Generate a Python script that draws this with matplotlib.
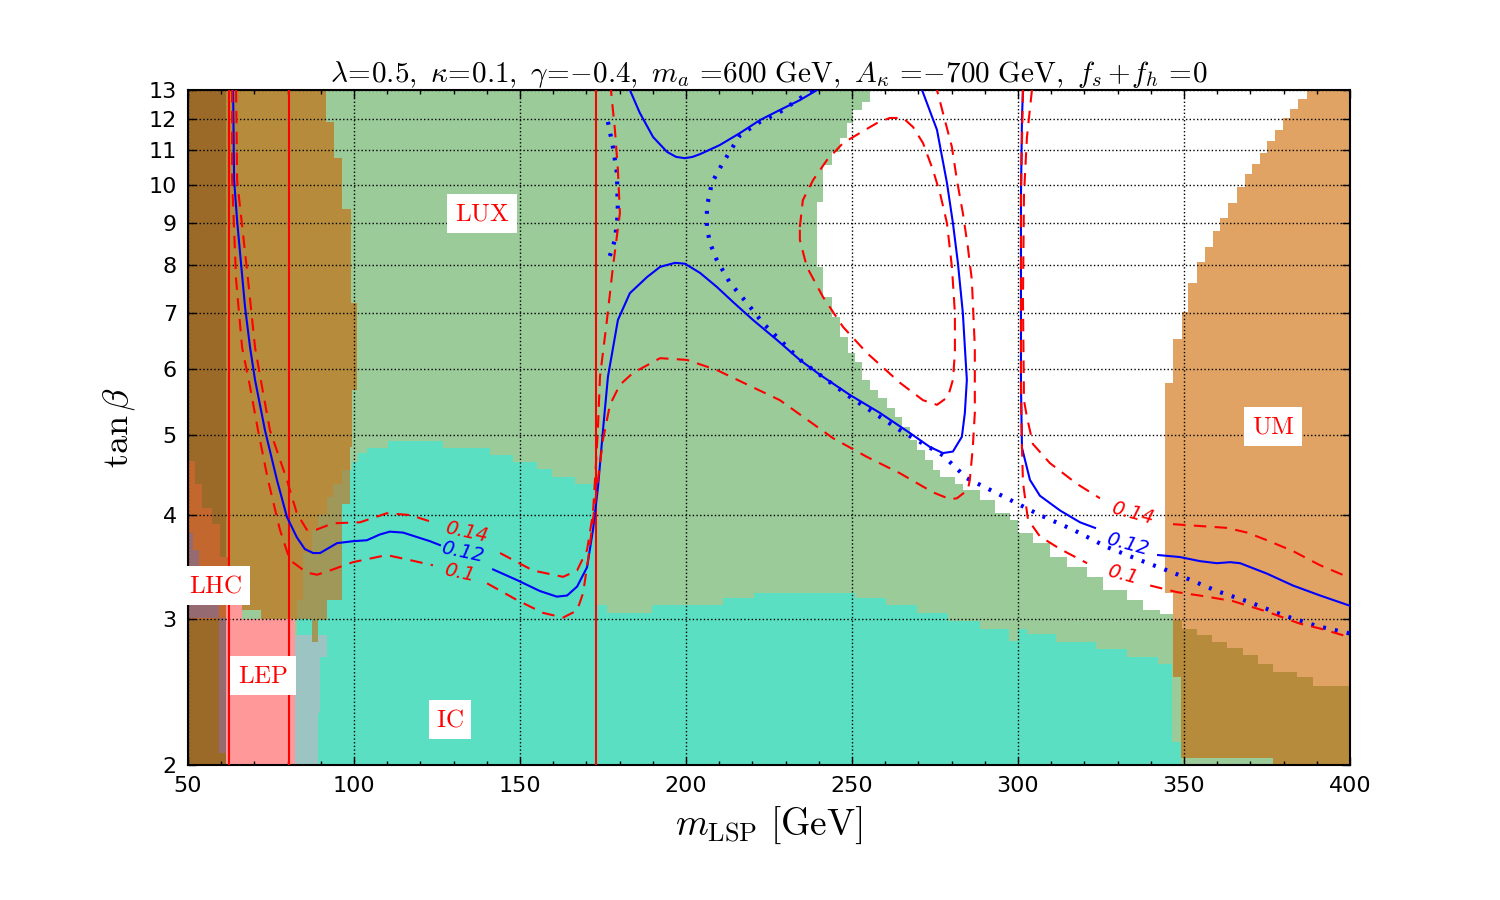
import numpy as np
import matplotlib
matplotlib.use('Agg')
from matplotlib import pyplot as plt
from matplotlib.path import Path
from matplotlib.patches import PathPatch
from matplotlib.ticker import MultipleLocator, NullLocator

plt.rcParams['mathtext.fontset'] = 'cm'

# ---- shaded regions (staircase edges, m in GeV, tan(beta)) ----
# LUX (green): right edge, bands between successive tan(beta) edges
GREEN_T_EDGES = [13.0, 12.57, 12.30, 11.86, 11.38, 10.95, 10.56, 9.53, 7.96, 7.32, 6.93, 6.55,
                 6.27, 6.11, 5.82, 5.66, 5.53, 5.38, 5.25, 5.11, 4.93, 4.79, 4.66, 4.53, 4.44,
                 4.36, 4.29, 4.17, 4.02, 3.95, 3.81, 3.70, 3.56, 3.46, 3.37, 3.25, 3.16, 3.07,
                 3.04, 2.99, 2.92, 2.87, 2.81, 2.77, 2.71, 2.65, 2.59, 2.55, 2.49, 2.0]
GREEN_M_RIGHT = [255.4, 253.0, 250.3, 248.5, 246.4, 244.0, 241.3, 239.5, 241.3, 244.0, 246.4,
                 248.8, 250.9, 253.0, 255.4, 257.8, 260.5, 263.0, 265.1, 267.5, 269.6, 272.0,
                 274.4, 276.5, 281.0, 283.4, 288.6, 293.1, 297.6, 300.0, 304.5, 309.6, 314.8,
                 320.8, 325.6, 332.8, 337.7, 342.8, 346.7, 349.4, 353.9, 358.4, 363.0, 367.8,
                 372.3, 376.8, 384.0, 388.9, 400.0]

# IC (turquoise): left edge (tan beta bands) and top edge (mass bands)
TURQ_T_LEFT_EDGES = [2.0, 2.83, 3.16, 3.60, 3.84, 4.00, 4.21, 4.36, 4.53, 4.63]
TURQ_M_LEFT = [81.6, 82.8, 84.6, 87.3, 89.2, 91.9, 93.7, 96.4, 99.4]
TURQ_M_EDGES = [99.4, 101.2, 103.9, 110.2, 126.8, 141.0, 147.9, 155.1, 159.6, 166.6, 172.9,
                176.2, 189.8, 211.1, 220.5, 250.9, 260.2, 269.6, 278.9, 288.5, 297.3, 300.0,
                302.7, 311.4, 323.5, 332.8, 342.2, 346.4, 349.1]
TURQ_T_TOP = [4.63, 4.75, 4.82, 4.91, 4.82, 4.72, 4.63, 4.54, 4.44, 4.36, 3.12, 3.05, 3.12,
              3.18, 3.22, 3.18, 3.12, 3.05, 2.98, 2.92, 2.82, 2.92, 2.88, 2.81, 2.76, 2.70,
              2.65, 2.13]

# UM: right block (left edge) and low-mass block (right edge, bottom edge)
UM_T_EDGES = [13.0, 12.68, 12.33, 12.03, 11.64, 11.29, 10.92, 10.59, 10.30, 9.93, 9.50, 9.12,
              8.79, 8.41, 8.07, 7.61, 7.02, 6.52, 5.77, 3.22, 2.55, 2.04]
UM_M_LEFT = [387.0, 384.3, 381.9, 379.8, 377.4, 375.0, 372.9, 370.5, 368.4, 366.0, 363.3,
             360.8, 358.7, 356.3, 353.9, 351.2, 349.4, 346.7, 344.3, 346.7, 349.1]
UM_BOTTOM_M_EDGES = [349.1, 376.8, 400.0]
UM_BOTTOM_T = [2.04, 2.0]
UM_LOW_T_EDGES = [13.0, 11.9, 10.77, 9.35, 7.2, 5.66, 4.83, 4.13, 3.16, 2.99, 2.81]
UM_LOW_M_RIGHT = [91.6, 94.0, 96.4, 99.1, 100.9, 99.4, 98.8, 96.4, 91.9, 89.2]
UM_LOW_BOTTOM_M_EDGES = [61.4, 66.4, 72.0, 87.3, 89.2]
UM_LOW_BOTTOM_T = [3.17, 3.07, 3.0, 2.81]
UM_LOW_M_LEFT = 61.4

# LEP
LEP_M_EDGES = [61.4, 66.4, 82.2]
LEP_T_TOP = [3.17, 3.0]
GREY_T_EDGES = [2.0, 2.31, 2.70, 2.87]
GREY_M_RIGHT = [89.2, 89.8, 91.9]
GREY_M_LEFT = 81.6

# far-left strip and LHC
STRIP_M = [50.0, 61.4]
LHC_T_EDGES = [4.65, 4.36, 4.08, 3.90, 3.56, 3.18, 3.0]
LHC_M_RIGHT = [52.1, 54.2, 57.2, 59.6, 62.7, 61.4]
LHC2_T_EDGES = [3.81, 3.63, 3.46, 3.34, 3.18, 3.01]
LHC2_M_RIGHT = [51.6, 53.3, 55.3, 57.3, 59.3]
LHC2_STRIP_M = [59.3, 61.4]
LHC2_STRIP_T = [2.07, 3.01]

VLINES = [62.5, 80.4, 173.0]

# ---- relic density contours ----
BLUE_A1_M = [63.6, 63.9, 64.8, 65.7, 67.2, 68.7, 70.2, 73.2, 76.8, 79.8, 82.8, 85.2, 87.7,
             89.8, 94.9, 99.7, 103.9, 107.8, 110.8, 114.8, 122.9, 125.9]
BLUE_A1_T = [13.0, 10.13, 9.06, 8.27, 7.12, 6.37, 5.82, 5.06, 4.41, 3.98, 3.76, 3.64, 3.60,
             3.60, 3.70, 3.72, 3.73, 3.79, 3.82, 3.81, 3.72, 3.68]
BLUE_A2_M = [141.9, 149.1, 156.0, 161.1, 164.2, 167.2, 170.2, 172.0, 173.5, 175.0, 176.5,
             179.5, 183.1, 188.3, 192.2, 196.7, 199.7, 204.2, 209.3, 214.2, 220.2, 227.4,
             234.3, 240.4, 249.4, 258.4, 267.5, 273.5, 277.4, 280.4, 283.1, 284.0, 284.6,
             284.0, 283.4, 281.9, 280.4, 278.6, 275.6, 271.1]
BLUE_A2_T = [3.44, 3.34, 3.24, 3.19, 3.20, 3.28, 3.46, 3.84, 4.32, 5.06, 5.87, 6.87, 7.40,
             7.74, 7.96, 8.05, 8.03, 7.83, 7.53, 7.22, 6.87, 6.50, 6.15, 5.90, 5.58, 5.31,
             5.02, 4.83, 4.75, 4.77, 4.97, 5.31, 5.82, 6.37, 7.00, 8.05, 8.99, 10.05, 11.64,
             13.0]
BLUE_TOP_M = [183.1, 186.1, 190.1, 194.3, 197.0, 199.7, 202.0, 204.2, 210.2, 216.3, 222.3,
              228.3, 234.3, 239.5]
BLUE_TOP_T = [13.0, 12.2, 11.41, 10.95, 10.80, 10.76, 10.80, 10.88, 11.16, 11.54, 11.96,
              12.30, 12.64, 13.0]
BLUE_R1_M = [301.5, 301.2, 300.9, 300.9, 300.9, 301.2, 303.6, 306.6, 312.7, 318.7, 323.2]
BLUE_R1_T = [13.0, 12.03, 9.72, 7.06, 5.72, 4.82, 4.41, 4.22, 4.05, 3.92, 3.86]
BLUE_R2_M = [342.2, 348.8, 354.8, 359.9, 363.9, 366.9, 375.0, 382.8, 391.0, 400.0]
BLUE_R2_T = [3.58, 3.56, 3.52, 3.50, 3.51, 3.50, 3.40, 3.29, 3.20, 3.11]

DOT_A_M = [176.5, 178.0, 179.2, 179.5, 178.6, 176.5]
DOT_A_T = [11.9, 11.1, 10.33, 9.24, 8.58, 8.07]
DOT_B_M = [238.0, 228.3, 222.3, 216.3, 211.1, 207.8, 206.3, 206.3, 207.2, 209.3, 213.3, 218.4,
           223.2, 228.3, 235.2, 249.4, 264.5, 277.4, 284.6, 296.7, 306.6, 316.6, 326.8, 336.7,
           346.7, 359.9, 369.9, 379.8, 390.1, 400.0]
DOT_B_T = [13.0, 12.23, 11.9, 11.47, 10.62, 10.05, 9.40, 8.89, 8.51, 8.11, 7.61, 7.20, 6.81,
           6.50, 6.11, 5.55, 5.06, 4.72, 4.43, 4.19, 4.00, 3.84, 3.66, 3.53, 3.41, 3.24, 3.14,
           3.03, 2.94, 2.88]

R10_A_M = [63.3, 63.3, 64.5, 66.3, 68.7, 71.1, 74.1, 77.7, 80.7, 85.8, 88.9, 92.8, 99.7,
           109.9, 116.9, 123.8]
R10_A_T = [13.0, 10.13, 7.68, 6.37, 5.71, 5.06, 4.41, 3.84, 3.53, 3.41, 3.39, 3.43, 3.51,
           3.58, 3.53, 3.48]
R10_B_M = [140.1, 149.1, 156.9, 163.0, 167.2, 169.0, 170.5, 172.0, 173.5, 175.0, 177.1, 180.1,
           184.0, 192.2, 200.3, 209.3, 228.3, 244.3, 254.5, 264.5, 274.4, 279.5, 281.6, 284.9,
           285.5, 286.4, 287.0, 287.0, 286.1, 284.9, 283.4, 281.6, 280.1, 277.4, 275.6]
R10_B_T = [3.31, 3.16, 3.05, 3.01, 3.07, 3.22, 3.53, 3.95, 4.41, 4.93, 5.43, 5.74, 5.93, 6.18,
           6.15, 5.98, 5.50, 4.95, 4.70, 4.49, 4.26, 4.18, 4.19, 4.29, 4.41, 4.83, 5.31, 6.37,
           7.68, 8.41, 9.24, 10.13, 11.1, 12.2, 13.0]
R10_C_M = [301.5, 300.9, 300.9, 301.2, 301.5, 303.0, 306.6, 312.7, 320.8]
R10_C_T = [13.0, 9.72, 5.72, 4.82, 4.38, 3.95, 3.77, 3.64, 3.50]
R10_D_M = [339.8, 347.9, 356.9, 364.8, 375.0, 384.9, 391.0, 400.0]
R10_D_T = [3.29, 3.23, 3.19, 3.15, 3.06, 2.96, 2.92, 2.85]

R14_A_M = [64.5, 64.8, 68.1, 70.2, 72.3, 74.7, 79.8, 82.8, 85.8, 88.6, 93.7, 101.8, 109.9,
           116.9, 123.8]
R14_A_T = [13.0, 10.13, 7.68, 6.37, 5.71, 5.06, 4.41, 4.02, 3.84, 3.84, 3.91, 3.92, 4.02,
           4.00, 3.92]
R14_B_M = [144.0, 153.9, 163.0, 167.2, 170.2, 172.0, 172.9, 173.5, 174.1, 176.2, 178.0, 180.1,
           179.5, 178.6, 177.7, 177.4]
R14_B_T = [3.60, 3.43, 3.37, 3.43, 3.63, 4.02, 4.62, 5.11, 5.87, 6.87, 7.96, 9.24, 10.41,
           11.64, 12.64, 13.0]
R14_LOOP_M = [234.3, 235.2, 238.3, 242.5, 247.3, 252.4, 257.5, 261.4, 265.4, 268.4, 271.4,
              274.4, 276.5, 278.6, 280.1, 281.0, 281.0, 280.4, 278.9, 275.6, 271.4, 264.5,
              254.5, 247.3, 241.3, 236.4, 234.3, 234.3]
R14_LOOP_T = [8.89, 9.58, 10.13, 10.71, 11.22, 11.54, 11.86, 12.03, 12.03, 11.73, 11.22, 10.41,
              9.77, 8.99, 7.96, 7.00, 6.27, 5.82, 5.55, 5.43, 5.50, 5.77, 6.27, 6.74, 7.32,
              7.96, 8.58, 8.89]
R14_C_M = [304.2, 302.7, 301.8, 301.5, 301.8, 302.7, 304.5, 309.6, 317.8, 324.7]
R14_C_T = [13.0, 11.41, 9.72, 7.26, 5.50, 5.25, 4.87, 4.62, 4.36, 4.19]
R14_D_M = [346.7, 354.8, 363.0, 369.0, 375.0, 382.8, 391.0, 400.0]
R14_D_T = [3.90, 3.88, 3.86, 3.81, 3.73, 3.62, 3.48, 3.36]

# contour labels: text, m, tan beta, colour, rotation
CLABELS = [('0.14', 134.0, 3.81, 'red', -12), ('0.12', 132.8, 3.61, 'blue', -12),
           ('0.1', 131.6, 3.41, 'red', -12), ('0.14', 334.6, 4.02, 'red', -15),
           ('0.12', 333.1, 3.69, 'blue', -15), ('0.1', 331.6, 3.39, 'red', -15)]
# region labels
REGION_LABELS = [('LUX', 138.6, 9.24), ('IC', 128.9, 2.27), ('LEP', 72.6, 2.56),
                 ('LHC', 58.4, 3.29), ('UM', 376.8, 5.12)]

C_GREEN = '#9acb99'
C_TURQ = '#5adfc2'
C_UM = '#e0a364'
C_UMG = '#b68c3c'
C_OLIVE = '#a09858'
C_STRIP = '#9b6a29'
C_LHC = '#c2672e'
C_LHC2 = '#956a70'
C_LEP = '#ff9999'
C_GREY = '#9bc4c2'


def vstairs(t_edges, m_vals):
    pts = []
    for i, m in enumerate(m_vals):
        pts.append((m, t_edges[i]))
        pts.append((m, t_edges[i + 1]))
    return pts


def hstairs(m_edges, t_vals):
    pts = []
    for i, t in enumerate(t_vals):
        pts.append((m_edges[i], t))
        pts.append((m_edges[i + 1], t))
    return pts


def to_path(pts):
    return Path(list(pts) + [pts[0]], closed=True)


def add_poly(ax, path, color):
    p = PathPatch(path, facecolor=color, edgecolor='none', antialiased=False, zorder=1)
    ax.add_patch(p)
    return p


fig = plt.figure(figsize=(15, 9), dpi=100)
ax = fig.add_axes([0.1253, 0.15, 0.7747, 0.75])

green_path = to_path([(50, 2.0), (50, 13.0)] + vstairs(GREEN_T_EDGES, GREEN_M_RIGHT))
turq_path = to_path(vstairs(TURQ_T_LEFT_EDGES, TURQ_M_LEFT) + hstairs(TURQ_M_EDGES, TURQ_T_TOP)
                    + [(TURQ_M_EDGES[-1], 2.0)])
um_right = to_path(vstairs(UM_T_EDGES, UM_M_LEFT) + hstairs(UM_BOTTOM_M_EDGES, UM_BOTTOM_T)
                   + [(400, 13.0)])
um_low = to_path([(UM_LOW_M_LEFT, 13.0)] + vstairs(UM_LOW_T_EDGES, UM_LOW_M_RIGHT)
                 + hstairs(UM_LOW_BOTTOM_M_EDGES, UM_LOW_BOTTOM_T)[::-1])
um_path = Path.make_compound_path(um_right, um_low)

add_poly(ax, green_path, C_GREEN)
add_poly(ax, turq_path, C_TURQ)
grey_path = to_path(vstairs(GREY_T_EDGES, GREY_M_RIGHT)
                    + [(GREY_M_LEFT, GREY_T_EDGES[-1]), (GREY_M_LEFT, GREY_T_EDGES[0])])
add_poly(ax, grey_path, C_GREY)
um_patch = add_poly(ax, um_path, C_UM)
add_poly(ax, green_path, C_UMG).set_clip_path(um_patch)
add_poly(ax, turq_path, C_OLIVE).set_clip_path(um_patch)

strip = to_path([(STRIP_M[0], 2.0), (STRIP_M[1], 2.0), (STRIP_M[1], 13.0), (STRIP_M[0], 13.0)])
add_poly(ax, strip, C_STRIP)
lhc = to_path([(50, LHC_T_EDGES[0])] + vstairs(LHC_T_EDGES, LHC_M_RIGHT) + [(50, LHC_T_EDGES[-1])])
add_poly(ax, lhc, C_LHC)
lhc2 = to_path([(50, LHC2_T_EDGES[0])] + vstairs(LHC2_T_EDGES, LHC2_M_RIGHT) + [(50, LHC2_T_EDGES[-1])])
add_poly(ax, lhc2, C_LHC2)
lhc2s = to_path([(LHC2_STRIP_M[0], LHC2_STRIP_T[0]), (LHC2_STRIP_M[1], LHC2_STRIP_T[0]),
                 (LHC2_STRIP_M[1], LHC2_STRIP_T[1]), (LHC2_STRIP_M[0], LHC2_STRIP_T[1])])
add_poly(ax, lhc2s, C_LHC2)
lep = to_path([(LEP_M_EDGES[0], 2.0)] + hstairs(LEP_M_EDGES, LEP_T_TOP) + [(LEP_M_EDGES[-1], 2.0)])
add_poly(ax, lep, C_LEP)

# lines
for x in VLINES:
    ax.axvline(x, color='red', lw=1.5, zorder=3)

solid_kw = dict(color='blue', lw=1.5, zorder=4)
for m, t in [(BLUE_A1_M, BLUE_A1_T), (BLUE_A2_M, BLUE_A2_T), (BLUE_TOP_M, BLUE_TOP_T),
             (BLUE_R1_M, BLUE_R1_T), (BLUE_R2_M, BLUE_R2_T)]:
    ax.plot(m, t, **solid_kw)
dot_kw = dict(color='blue', lw=3, linestyle=(0, (0.7, 2.2)), zorder=4)
for m, t in [(DOT_A_M, DOT_A_T), (DOT_B_M, DOT_B_T)]:
    ax.plot(m, t, **dot_kw)
dash_kw = dict(color='red', lw=1.5, linestyle=(0, (6, 4)), zorder=4)
for m, t in [(R10_A_M, R10_A_T), (R10_B_M, R10_B_T), (R10_C_M, R10_C_T), (R10_D_M, R10_D_T),
             (R14_A_M, R14_A_T), (R14_B_M, R14_B_T), (R14_LOOP_M, R14_LOOP_T),
             (R14_C_M, R14_C_T), (R14_D_M, R14_D_T)]:
    ax.plot(m, t, **dash_kw)

for txt, m, t, c, rot in CLABELS:
    ax.text(m, t, txt, color=c, fontsize=14, style='italic', rotation=rot,
            ha='center', va='center', zorder=5)

for txt, m, t in REGION_LABELS:
    ax.text(m, t, r'$\mathrm{%s}$' % txt, color='red', fontsize=18, ha='center', va='center',
            zorder=6, bbox=dict(facecolor='white', edgecolor='none', boxstyle='square,pad=0.3'))

# axes
ax.set_yscale('log')
ax.set_xlim(50, 400)
ax.set_ylim(2, 13)
yt = list(range(2, 14))
ax.set_yticks(yt)
ax.set_yticklabels([str(v) for v in yt])
ax.yaxis.set_minor_locator(NullLocator())
ax.xaxis.set_major_locator(MultipleLocator(50))
ax.xaxis.set_minor_locator(MultipleLocator(10))
ax.tick_params(which='both', direction='in', top=True, right=True, labelsize=16, width=1)
ax.tick_params(which='major', length=6, pad=8)
ax.tick_params(which='minor', length=3)
ax.set_axisbelow('line')
ax.grid(True, which='major', color='black', linestyle=':', linewidth=1)
for s in ax.spines.values():
    s.set_linewidth(1.5)

ax.set_xlabel(r'$m_{\mathrm{LSP}}\ [\mathrm{GeV}]$', fontsize=27, labelpad=6)
ax.set_ylabel(r'$\tan\beta$', fontsize=26, labelpad=8)
ax.set_title(r'$\lambda\!=\!0.5,\ \kappa\!=\!0.1,\ \gamma\!=\!{-}0.4,\ m_a\ \!=\!600\ \mathrm{GeV},'
             r'\ A_\kappa\ \!=\!{-}700\ \mathrm{GeV},\ f_s\,\!+\!f_h\ \!=\!0$', fontsize=21, pad=3)

fig.savefig('out.png', dpi=100)
